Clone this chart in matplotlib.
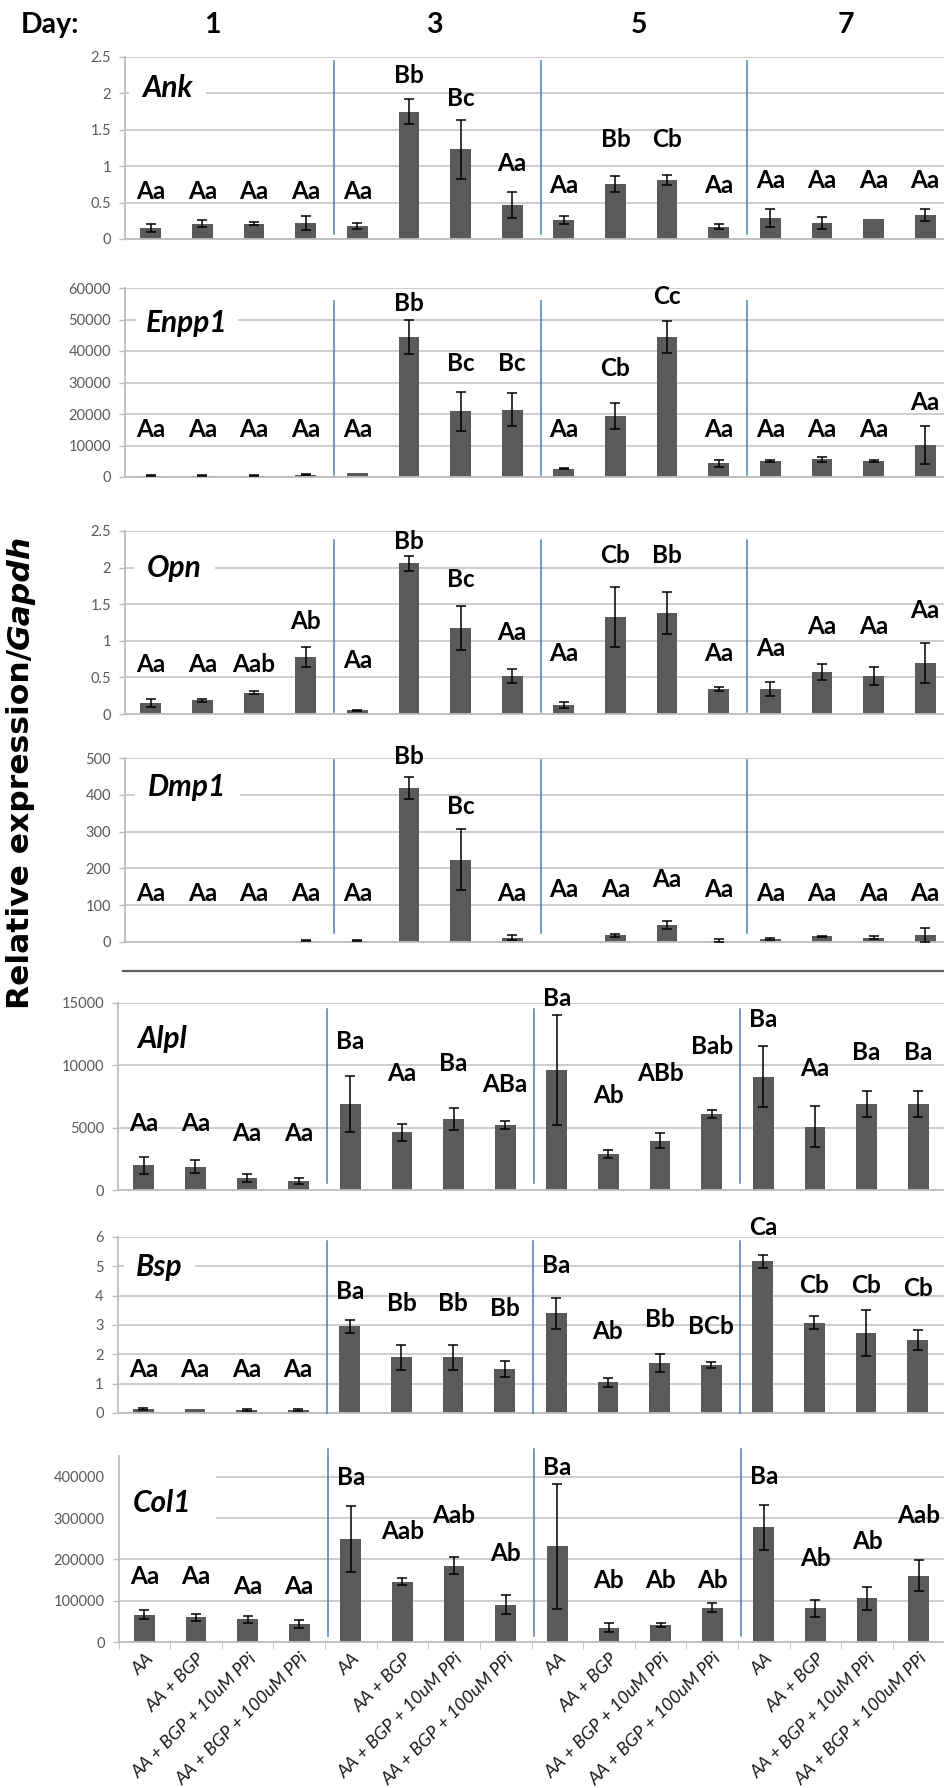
import numpy as np
import matplotlib
matplotlib.use("Agg")
from matplotlib import pyplot as plt
from matplotlib.lines import Line2D
from matplotlib.ticker import FuncFormatter
from matplotlib.transforms import ScaledTranslation

plt.rcParams["font.family"] = ["Lato", "DejaVu Sans"]

# ---------------------------------------------------------------- data
days = ["1", "3", "5", "7"]
treatments = ["AA", "AA + BGP", "AA + BGP + 10uM PPi", "AA + BGP + 100uM PPi"]
x_labels = treatments * 4
genes = ["Ank", "Enpp1", "Opn", "Dmp1", "Alpl", "Bsp", "Col1"]

ank_mean = [0.15, 0.21, 0.21, 0.22, 0.18, 1.75, 1.23, 0.47, 0.26, 0.76, 0.81, 0.17, 0.29, 0.22, 0.28, 0.33]
ank_err = [0.05, 0.05, 0.02, 0.10, 0.04, 0.17, 0.40, 0.18, 0.05, 0.11, 0.07, 0.03, 0.12, 0.08, 0.0, 0.08]
ank_letters = ["Aa", "Aa", "Aa", "Aa", "Aa", "Bb", "Bc", "Aa", "Aa", "Bb", "Cb", "Aa", "Aa", "Aa", "Aa", "Aa"]
ank_lab_y = [0.65, 0.65, 0.65, 0.65, 0.65, 2.25, 1.93, 1.04, 0.74, 1.36, 1.36, 0.74, 0.81, 0.81, 0.81, 0.81]

enpp1_mean = [400, 400, 400, 750, 1200, 44400, 20800, 21400, 2600, 19300, 44400, 4300, 5150, 5600, 5150, 10200]
enpp1_err = [150, 150, 150, 250, 0, 5500, 6200, 5200, 200, 4200, 5000, 1000, 300, 800, 250, 6100]
enpp1_letters = ["Aa", "Aa", "Aa", "Aa", "Aa", "Bb", "Bc", "Bc", "Aa", "Cb", "Cc", "Aa", "Aa", "Aa", "Aa", "Aa"]
enpp1_lab_y = [15000, 15000, 15000, 15000, 15000, 55200, 35900, 35900, 15000, 34300, 57300, 15000, 15000, 15000, 15000, 23600]

opn_mean = [0.15, 0.19, 0.29, 0.78, 0.05, 2.06, 1.18, 0.52, 0.12, 1.33, 1.38, 0.34, 0.34, 0.57, 0.52, 0.70]
opn_err = [0.05, 0.02, 0.02, 0.14, 0.01, 0.10, 0.30, 0.10, 0.04, 0.41, 0.29, 0.03, 0.10, 0.11, 0.12, 0.27]
opn_letters = ["Aa", "Aa", "Aab", "Ab", "Aa", "Bb", "Bc", "Aa", "Aa", "Cb", "Bb", "Aa", "Aa", "Aa", "Aa", "Aa"]
opn_lab_y = [0.67, 0.67, 0.67, 1.27, 0.73, 2.36, 1.84, 1.12, 0.82, 2.16, 2.16, 0.82, 0.89, 1.19, 1.19, 1.41]

dmp1_mean = [0.5, 0.5, 1, 4, 3, 418, 224, 12, 1, 18, 45, 4, 8, 15, 12, 19]
dmp1_err = [0, 0, 0, 2, 1.5, 30, 82, 6, 0, 5, 11, 3, 3, 2, 4, 18]
dmp1_letters = ["Aa"] * 5 + ["Bb", "Bc"] + ["Aa"] * 9
dmp1_lab_y = [133, 133, 133, 133, 133, 503, 369, 133, 144, 144, 170, 144, 133, 133, 133, 133]

alpl_mean = [1980, 1880, 970, 720, 6910, 4630, 5680, 5220, 9640, 2870, 3960, 6080, 9080, 5060, 6880, 6880]
alpl_err = [700, 550, 320, 250, 2270, 670, 880, 300, 4400, 300, 600, 300, 2450, 1650, 1050, 1050]
alpl_letters = ["Aa", "Aa", "Aa", "Aa", "Ba", "Aa", "Ba", "ABa", "Ba", "Ab", "ABb", "Bab", "Ba", "Aa", "Ba", "Ba"]
alpl_lab_y = [5360, 5360, 4550, 4550, 11920, 9320, 10180, 8440, 15400, 7550, 9320, 11520, 13660, 9720, 11030, 11030]

bsp_mean = [0.14, 0.14, 0.09, 0.09, 2.95, 1.90, 1.90, 1.49, 3.40, 1.05, 1.71, 1.65, 5.17, 3.08, 2.73, 2.49]
bsp_err = [0.03, 0.0, 0.03, 0.03, 0.23, 0.42, 0.42, 0.27, 0.53, 0.15, 0.30, 0.10, 0.23, 0.21, 0.78, 0.34]
bsp_letters = ["Aa", "Aa", "Aa", "Aa", "Ba", "Bb", "Bb", "Bb", "Ba", "Ab", "Bb", "BCb", "Ca", "Cb", "Cb", "Cb"]
bsp_lab_y = [1.49, 1.49, 1.49, 1.49, 4.14, 3.74, 3.74, 3.57, 5.04, 2.78, 3.18, 2.95, 6.34, 4.36, 4.36, 4.25]

col1_mean = [66300, 59800, 55000, 43600, 249700, 146300, 185000, 90500, 231100, 34700, 40400, 83200, 277200, 81600, 105900, 160800]
col1_err = [11000, 9000, 8500, 10500, 80000, 8500, 21000, 23400, 152000, 11000, 5000, 10000, 54000, 21000, 27500, 37000]
col1_letters = ["Aa", "Aa", "Aa", "Aa", "Ba", "Aab", "Aab", "Ab", "Ba", "Ab", "Ab", "Ab", "Ba", "Ab", "Ab", "Aab"]
col1_lab_y = [159200, 159200, 133300, 133300, 398000, 266700, 307000, 214000, 423000, 149500, 149500, 149500, 400000, 202000, 242000, 307000]

means = [ank_mean, enpp1_mean, opn_mean, dmp1_mean, alpl_mean, bsp_mean, col1_mean]
errs = [ank_err, enpp1_err, opn_err, dmp1_err, alpl_err, bsp_err, col1_err]
letters = [ank_letters, enpp1_letters, opn_letters, dmp1_letters, alpl_letters, bsp_letters, col1_letters]
lab_ys = [ank_lab_y, enpp1_lab_y, opn_lab_y, dmp1_lab_y, alpl_lab_y, bsp_lab_y, col1_lab_y]

# ---------------------------------------------------------------- layout (pixels of a 944x1788 canvas)
W, H = 944, 1788
# left, top, bottom, ymax, ystep
boxes = [(125, 57, 239, 2.5, 0.5),
         (125, 288, 477, 60000, 10000),
         (125, 531, 714, 2.5, 0.5),
         (125, 758, 942, 500, 100),
         (118, 1003, 1190, 15000, 5000),
         (117.5, 1237, 1413, 6, 1),
         (118.5, 1456, 1642, 450000, 100000)]
plot_w = 826
gene_pos = [(142, 0.83), (146, 0.815), (147, 0.80), (148, 0.84), (137, 0.81), (136, 0.83), (133, 0.75)]
gene_pad = [0.45, 0.35, 0.45, 0.45, 0.3, 0.4, 0.8]
blue_span = [(0.03, 0.98), (0.01, 0.93), (0.01, 0.95), (0.05, 0.99), (0.04, 0.97), (0.0, 0.98), (0.03, 1.04)]

bar_col = "#5a5a5a"
grid_col = "#c9c9c9"
axis_col = "#bdbdbd"
blue = "#4a7ebb"

fig = plt.figure(figsize=(W / 100, H / 100), dpi=100)
x = np.arange(16)

for k, gene in enumerate(genes):
    left, top, bot, ymax, ystep = boxes[k]
    ax = fig.add_axes([left / W, 1 - bot / H, plot_w / W, (bot - top) / H])
    ax.set_axisbelow(True)

    e = np.array(errs[k], dtype=float)
    ax.bar(x, means[k], width=0.4, color=bar_col, zorder=2)
    ax.errorbar(x, means[k], yerr=np.where(e > 0, e, np.nan), fmt="none", ecolor="black",
                elinewidth=1.1, capsize=3.8, capthick=1.1, zorder=3)

    for i in range(16):
        ax.text(x[i], lab_ys[k][i], letters[k][i], ha="center", va="center", fontsize=17.5,
                fontweight="bold", color="black", clip_on=False, zorder=4)

    for b in [3.55, 7.55, 11.55]:
        ax.axvline(b, ymin=blue_span[k][0], ymax=blue_span[k][1], color=blue, lw=1.1,
                   zorder=3, clip_on=False)

    gx, gy = gene_pos[k]
    ax.text((gx - left) / plot_w, gy, gene, transform=ax.transAxes, ha="left", va="center",
            fontsize=21.5, fontweight="bold", fontstyle="italic", zorder=2,
            bbox=dict(boxstyle="square,pad=%.2f" % gene_pad[k], fc="white", ec="none"))

    ax.set_xlim(-0.5, 15.5)
    ax.set_ylim(0, ymax)
    top_tick = ymax if gene != "Col1" else 400000
    ax.set_yticks(np.arange(0, top_tick + ystep / 2, ystep))
    ax.yaxis.set_major_formatter(FuncFormatter(lambda v, p: "%g" % v))
    ax.grid(axis="y", color=grid_col, lw=1.3)
    ax.tick_params(axis="y", direction="out", length=4, width=1, color=axis_col,
                   labelsize=10.5, labelcolor="#595959", pad=6)

    for side in ["top", "right"]:
        ax.spines[side].set_visible(False)
    for side in ["left", "bottom"]:
        ax.spines[side].set_color(axis_col)
        ax.spines[side].set_linewidth(1.3)

    if gene == "Col1":
        ax.set_xticks(x)
        ax.set_xticklabels(x_labels, rotation=45, ha="right", fontstyle="italic", fontsize=13,
                           color="#1a1a1a")
        ax.tick_params(axis="x", which="major", length=0, pad=6)
        shift = ScaledTranslation(12 / 100, 0, fig.dpi_scale_trans)
        for lab in ax.get_xticklabels():
            lab.set_transform(lab.get_transform() + shift)
        ax.set_xticks(np.arange(-0.5, 16, 1), minor=True)
        ax.tick_params(axis="x", which="minor", direction="out", length=5, color=axis_col)
    else:
        ax.set_xticks([])

# separator between the two groups of genes
fig.add_artist(Line2D([123 / W, 1.0], [1 - 971 / H] * 2, color="#5f5f5f", lw=1.6))

# day header
fig.text(21 / W, 1 - 25 / H, "Day:", ha="left", va="center", fontsize=20.5, fontweight="bold")
for d, cx in zip(days, [212, 434, 639, 846]):
    fig.text(cx / W, 1 - 25 / H, d, ha="center", va="center", fontsize=20.5, fontweight="bold")

# y label: plain part + italic gene name, laid end to end along the baseline
renderer = fig.canvas.get_renderer()
ylab_kw = dict(rotation=90, rotation_mode="anchor", ha="left", va="baseline",
               fontweight="bold", family="DejaVu Sans")
t1 = fig.text(29 / W, 1 - 1009 / H, "Relative expression/", fontsize=18, **ylab_kw)
t2 = fig.text(29 / W, 0, "Gapdh", fontsize=18, fontstyle="italic", **ylab_kw)
total = t1.get_window_extent(renderer).height + t2.get_window_extent(renderer).height
fs = 18 * 475 / total
t1.set_fontsize(fs)
t2.set_fontsize(fs)
t2.set_y(1 - 1009 / H + t1.get_window_extent(renderer).height / H)

fig.savefig("out.png", dpi=100)
